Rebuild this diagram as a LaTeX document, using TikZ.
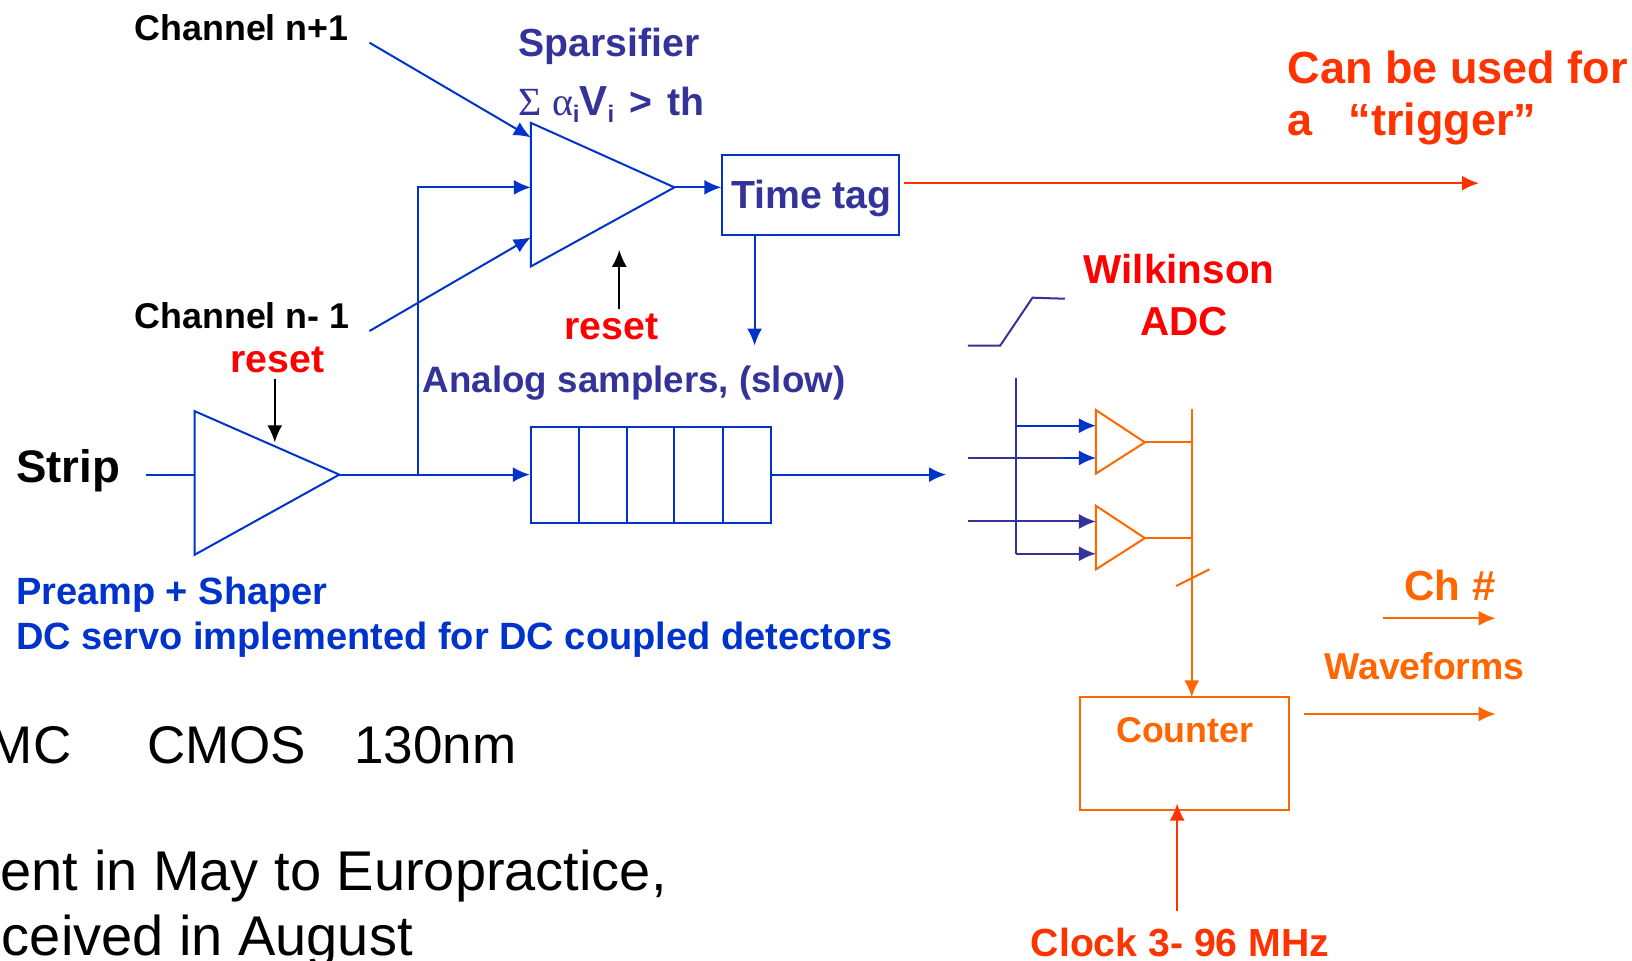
\documentclass[tikz,border=0pt]{standalone}
\usepackage{fontspec}
\setmainfont{Liberation Sans}
\newfontfamily\serifsym{Liberation Serif}
\usetikzlibrary{arrows.meta}
\definecolor{dkblue}{HTML}{333399}
\definecolor{ltblue}{HTML}{0033CC}
\definecolor{rorange}{HTML}{FF3300}
\definecolor{orng}{HTML}{FF6600}
\definecolor{rred}{HTML}{FF0000}
\newcommand{\fs}[1]{\fontsize{#1}{#1}\selectfont}
\tikzset{
  txt/.style={inner sep=0pt,anchor=base west,font=\fs{19.6}\bfseries},
  plain/.style={inner sep=0pt,anchor=base east,font=\fs{26.5},text=black},
  wire/.style={line width=1pt,ltblue},
  wired/.style={line width=1pt,dkblue},
  wireo/.style={line width=1pt,orng},
  wirer/.style={line width=1pt,rorange},
  wirek/.style={line width=1pt,black},
  arr/.style={-{Latex[length=8.5pt,width=7.5pt]}},
  blk/.style={draw,line width=1pt,inner sep=0pt,minimum height=0pt},
}
\begin{document}
\begin{tikzpicture}[x=0.5204pt,y=-0.5204pt]
\useasboundingbox (0,0) rectangle (1568,923);
\clip (0,0) rectangle (1568,923);
% coordinates: sparsifier triangle
\coordinate (st) at (510,118); \coordinate (sb) at (510,256); \coordinate (so) at (648,180);
\coordinate (si) at (510,180); \coordinate (si1) at (510,132); \coordinate (si3) at (510,228);
\coordinate (chu) at (355,41); \coordinate (chd) at (355,318);
% preamp triangle
\coordinate (pt) at (187,395); \coordinate (pb) at (187,533); \coordinate (po) at (326,456);
\coordinate (pi) at (187,456); \coordinate (stripin) at (140,456);
\coordinate (jn) at (402,456); \coordinate (jt) at (402,180);
% boxes
\node[blk,ltblue,minimum width=88.5pt,minimum height=40pt] (tt) at (779,187.5) {};
\node[blk,ltblue,minimum width=120.2pt,minimum height=47.9pt] (samp) at (625.5,456) {};
\node[blk,orng,minimum width=104.1pt,minimum height=56.2pt] (cnt) at (1138,724) {};
% triangles
\draw[wire] (st) -- (so) -- (sb) -- cycle;
\draw[wire] (pt) -- (po) -- (pb) -- cycle;
% sampler dividers
\foreach \x/\n in {556/a,602/b,648/c,695/d}{
  \coordinate (dt\n) at (\x,410); \coordinate (db\n) at (\x,502);
  \draw[wire] (dt\n) -- (db\n);
}
% blue connectors
\draw[wire,arr] (chu) -- (si1);
\draw[wire,arr] (chd) -- (si3);
\draw[wire] (stripin) -- (pi);
\draw[wire,arr] (po) -- (samp.west);
\draw[wire,arr] (jn) -- (jt) -- (si);
\draw[wire,arr] (so) -- (so -| tt.west);
\coordinate (ttd) at (725,332);
\draw[wire,arr] (ttd |- tt.south) -- (ttd);
\coordinate (sout) at (909,456);
\draw[wire,arr] (samp.east) -- (sout);
% black reset arrows
\coordinate (r1a) at (595,297); \coordinate (r1b) at (595,240);
\draw[wirek,arr] (r1a) -- (r1b);
\coordinate (r2a) at (264,364); \coordinate (r2b) at (264,425);
\draw[wirek,arr] (r2a) -- (r2b);
% trigger arrow
\coordinate (tga) at (869,176); \coordinate (tgb) at (1421,176);
\draw[wirer,arr] (tga) -- (tgb);
% ramp
\coordinate (ra) at (930,332); \coordinate (rb) at (961,332); \coordinate (rc) at (992,286); \coordinate (rd) at (1023,287);
\draw[wired] (ra) -- (rb) -- (rc) -- (rd);
% ADC comparators
\coordinate (bu1) at (1053,394); \coordinate (bd1) at (1053,455); \coordinate (bo1) at (1100,425);
\coordinate (bu2) at (1053,486); \coordinate (bd2) at (1053,547); \coordinate (bo2) at (1100,517);
\coordinate (bus) at (1145,393); \coordinate (busb) at (1145,670);
\draw[wireo] (bu1) -- (bo1) -- (bd1) -- cycle;
\draw[wireo] (bu2) -- (bo2) -- (bd2) -- cycle;
\draw[wireo] (bo1) -- (bo1 -| bus);
\draw[wireo] (bo2) -- (bo2 -| bus);
\draw[wireo,arr] (bus) -- (busb);
\coordinate (sla) at (1130,563); \coordinate (slb) at (1162,547);
\draw[wireo] (sla) -- (slb);
% ADC inputs
\coordinate (va) at (976,363); \coordinate (vb) at (976,532);
\coordinate (a1) at (1053,409); \coordinate (a2) at (1053,440); \coordinate (a3) at (1053,501); \coordinate (a4) at (1053,532);
\coordinate (l2) at (930,440); \coordinate (l3) at (930,501); \coordinate (l2e) at (1022,440);
\draw[wire,arr] (a1 -| va) -- (a1);
\draw[wire,arr] (l2) -- (a2);
\draw[wired] (l2) -- (l2e);
\draw[wired,arr] (l3) -- (a3);
\draw[wired,arr] (vb) -- (a4);
\draw[wired] (va) -- (vb);
% outputs
\coordinate (cha) at (1329,594); \coordinate (chb) at (1437,594);
\draw[wireo,arr] (cha) -- (chb);
\coordinate (wfa) at (1253,686); \coordinate (wfb) at (1437,686);
\draw[wireo,arr] (wfa) -- (wfb);
\coordinate (cka) at (1131,875); \coordinate (ckb) at (1131,772);
\draw[wirer,arr] (cka) -- (ckb);
% labels
\node[txt,font=\fs{17.9}\bfseries,text=black] (l1) at (129,39) {Channel n+1};
\node[txt,font=\fs{17.9}\bfseries,text=black] (l2t) at (129,316) {Channel n- 1};
\node[txt,text=dkblue] (l3t) at (498,54) {Sparsifier};
\node[txt,text=dkblue] (l4) at (498,111) {{\serifsym\mdseries\fs{20}Σ α}{\fs{12}\raisebox{-3.5pt}{i}}{\fs{21}V}{\fs{12}\raisebox{-3.5pt}{i}}\hspace{7.7pt}>\hspace{2pt} th};
\node[txt,font=\fs{22.5}\bfseries,text=rorange] (l5) at (1237,80) {Can be used for};
\node[txt,font=\fs{22.5}\bfseries,text=rorange] (l6) at (1237,130) {a\hspace{18pt}“trigger”};
\node[txt,text=dkblue] at (702,200) (l7) {Time tag};
\node[txt,font=\fs{20.2}\bfseries,text=rred] (l8) at (1041,272) {Wilkinson};
\node[txt,font=\fs{20.2}\bfseries,text=rred] (l9) at (1095,322) {ADC};
\node[txt,text=rred] (l10) at (221,358) {reset};
\node[txt,text=rred] (l11) at (542,326) {reset};
\node[txt,font=\fs{18.36}\bfseries,text=dkblue] (l12) at (406,377) {Analog samplers, (slow)};
\node[txt,font=\fs{22.8}\bfseries,text=black] (l13) at (15,464) {Strip};
\node[txt,font=\fs{19}\bfseries,text=ltblue] (l14) at (15,581) {Preamp + Shaper};
\node[txt,font=\fs{19}\bfseries,text=ltblue] (l15) at (15,624) {DC servo implemented for DC coupled detectors};
\node[plain] (l16) at (69,734) {MC};
\node[plain,anchor=base west] (l17) at (141,734) {CMOS};
\node[plain,anchor=base west] (l18) at (340,734) {130nm};
\node[plain,font=\fs{28}] (l19) at (641,856) {ent in May to Europractice,};
\node[plain,font=\fs{28}] (l20) at (397,918) {ceived in August};
\node[txt,font=\fs{21}\bfseries,text=orng] (l21) at (1349,577) {Ch \#};
\node[txt,font=\fs{18.7}\bfseries,text=orng] (l22) at (1272,653) {Waveforms};
\node[txt,font=\fs{17.9}\bfseries,text=orng] (l23) at (1072,713) {Counter};
\node[txt,text=rorange] (l24) at (990,919) {Clock 3- 96 MHz};
\end{tikzpicture}
\end{document}
